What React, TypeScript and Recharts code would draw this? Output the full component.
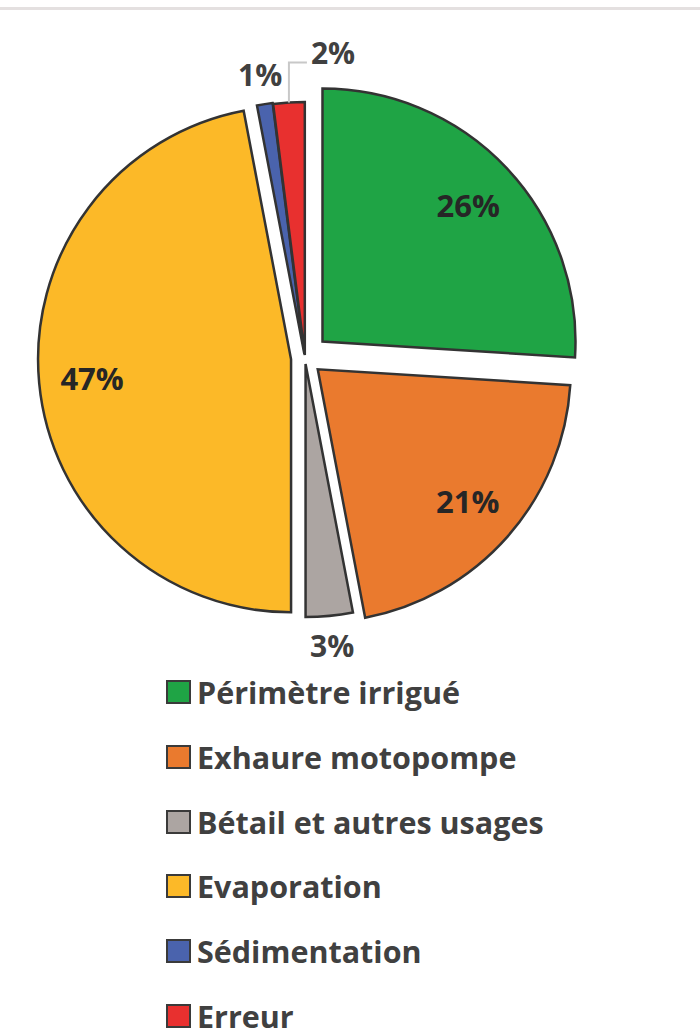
import React from "react";
import { PieChart, Pie, Cell, Legend, Sector } from "recharts";

const categories = [
  "Périmètre irrigué",
  "Exhaure motopompe",
  "Bétail et autres usages",
  "Evaporation",
  "Sédimentation",
  "Erreur",
];
const shares = [26, 21, 3, 47, 1, 2];

// styling
const colors = ["#1fa445", "#ea7a2e", "#aca5a2", "#fcb928", "#4a63ad", "#e8302f"];
const explode = [24, 17, 6, 14, 4, 3];
const leaderFor = "Erreur";

const data = categories.map((name, i) => ({ name, value: shares[i] }));
const RAD = Math.PI / 180;
const FONT = "'Open Sans', 'DejaVu Sans', sans-serif";

function shift(name: string, midAngle: number) {
  const d = explode[categories.indexOf(name)] ?? 0;
  return { dx: d * Math.cos(-midAngle * RAD), dy: d * Math.sin(-midAngle * RAD), d };
}

function ExplodedSlice(props: any) {
  const { dx, dy } = shift(props.name ?? props.payload?.name, props.midAngle);
  return <Sector {...props} cx={props.cx + dx} cy={props.cy + dy} />;
}

function renderLabel(props: any) {
  const { cx, cy, midAngle, outerRadius, value, name } = props;
  const { dx, dy, d } = shift(name, midAngle);
  const cos = Math.cos(-midAngle * RAD);
  const sin = Math.sin(-midAngle * RAD);
  const ox = cx + dx;
  const oy = cy + dy;
  const txt = `${value}%`;

  if (value >= 10) {
    const r = outerRadius * 0.79;
    return (
      <text x={ox + r * cos} y={oy + r * sin} textAnchor="middle" dominantBaseline="central"
        fontFamily={FONT} fontWeight={700} fontSize={31} fill="#262626">
        {txt}
      </text>
    );
  }
  if (name === leaderFor) {
    const x0 = cx + (outerRadius + d) * cos;
    const y0 = cy + (outerRadius + d) * sin;
    return (
      <g>
        <path d={`M${x0},${y0} V${y0 - 40} H${x0 + 18}`} stroke="#c8c8c8" strokeWidth={2} fill="none" />
        <text x={x0 + 22} y={y0 - 50} textAnchor="start" dominantBaseline="central"
          fontFamily={FONT} fontWeight={700} fontSize={30} fill="#404040">
          {txt}
        </text>
      </g>
    );
  }
  const r = outerRadius + d + 30;
  return (
    <text x={cx + r * cos} y={cy + r * sin} textAnchor="middle" dominantBaseline="central"
      fontFamily={FONT} fontWeight={700} fontSize={30} fill="#404040">
      {txt}
    </text>
  );
}

function renderLegend(props: any) {
  const items = (props.payload && props.payload.length
    ? [...props.payload]
    : categories.map((c, i) => ({ value: c, color: colors[i] }))
  ).sort((a: any, b: any) => categories.indexOf(a.value) - categories.indexOf(b.value));
  return (
    <div style={{ display: "flex", flexDirection: "column" }}>
      {items.map((it: any) => (
        <div key={it.value} style={{ height: 64.7, display: "flex", alignItems: "center" }}>
          <span style={{
            width: 21, height: 20, background: it.color, border: "2px solid #3a3a3a",
            marginRight: 6, flexShrink: 0,
          }} />
          <span style={{ fontFamily: FONT, fontWeight: 700, fontSize: 30.5, color: "#404040", whiteSpace: "nowrap" }}>
            {it.value}
          </span>
        </div>
      ))}
    </div>
  );
}

export default function App() {
  return (
    <div style={{ position: "absolute", left: 0, top: 0, width: 700, height: 1033, background: "#fff" }}>
      <div style={{ position: "absolute", left: 0, top: 7, width: 700, height: 3, background: "#e4e0e0" }} />
      <PieChart width={700} height={1033}>
        <Pie
          data={data}
          dataKey="value"
          nameKey="name"
          cx={300}
          cy={353}
          outerRadius={253}
          startAngle={90}
          endAngle={-270}
          stroke="#333333"
          strokeWidth={2.5}
          shape={ExplodedSlice}
          label={renderLabel}
          labelLine={false}
          isAnimationActive={false}
        >
          {data.map((e, i) => (
            <Cell key={e.name} fill={colors[i]} />
          ))}
        </Pie>
        <Legend
          content={renderLegend}
          itemSorter={null as any}
          wrapperStyle={{ position: "absolute", left: 166, top: 660, width: 520, height: 380 }}
        />
      </PieChart>
    </div>
  );
}
